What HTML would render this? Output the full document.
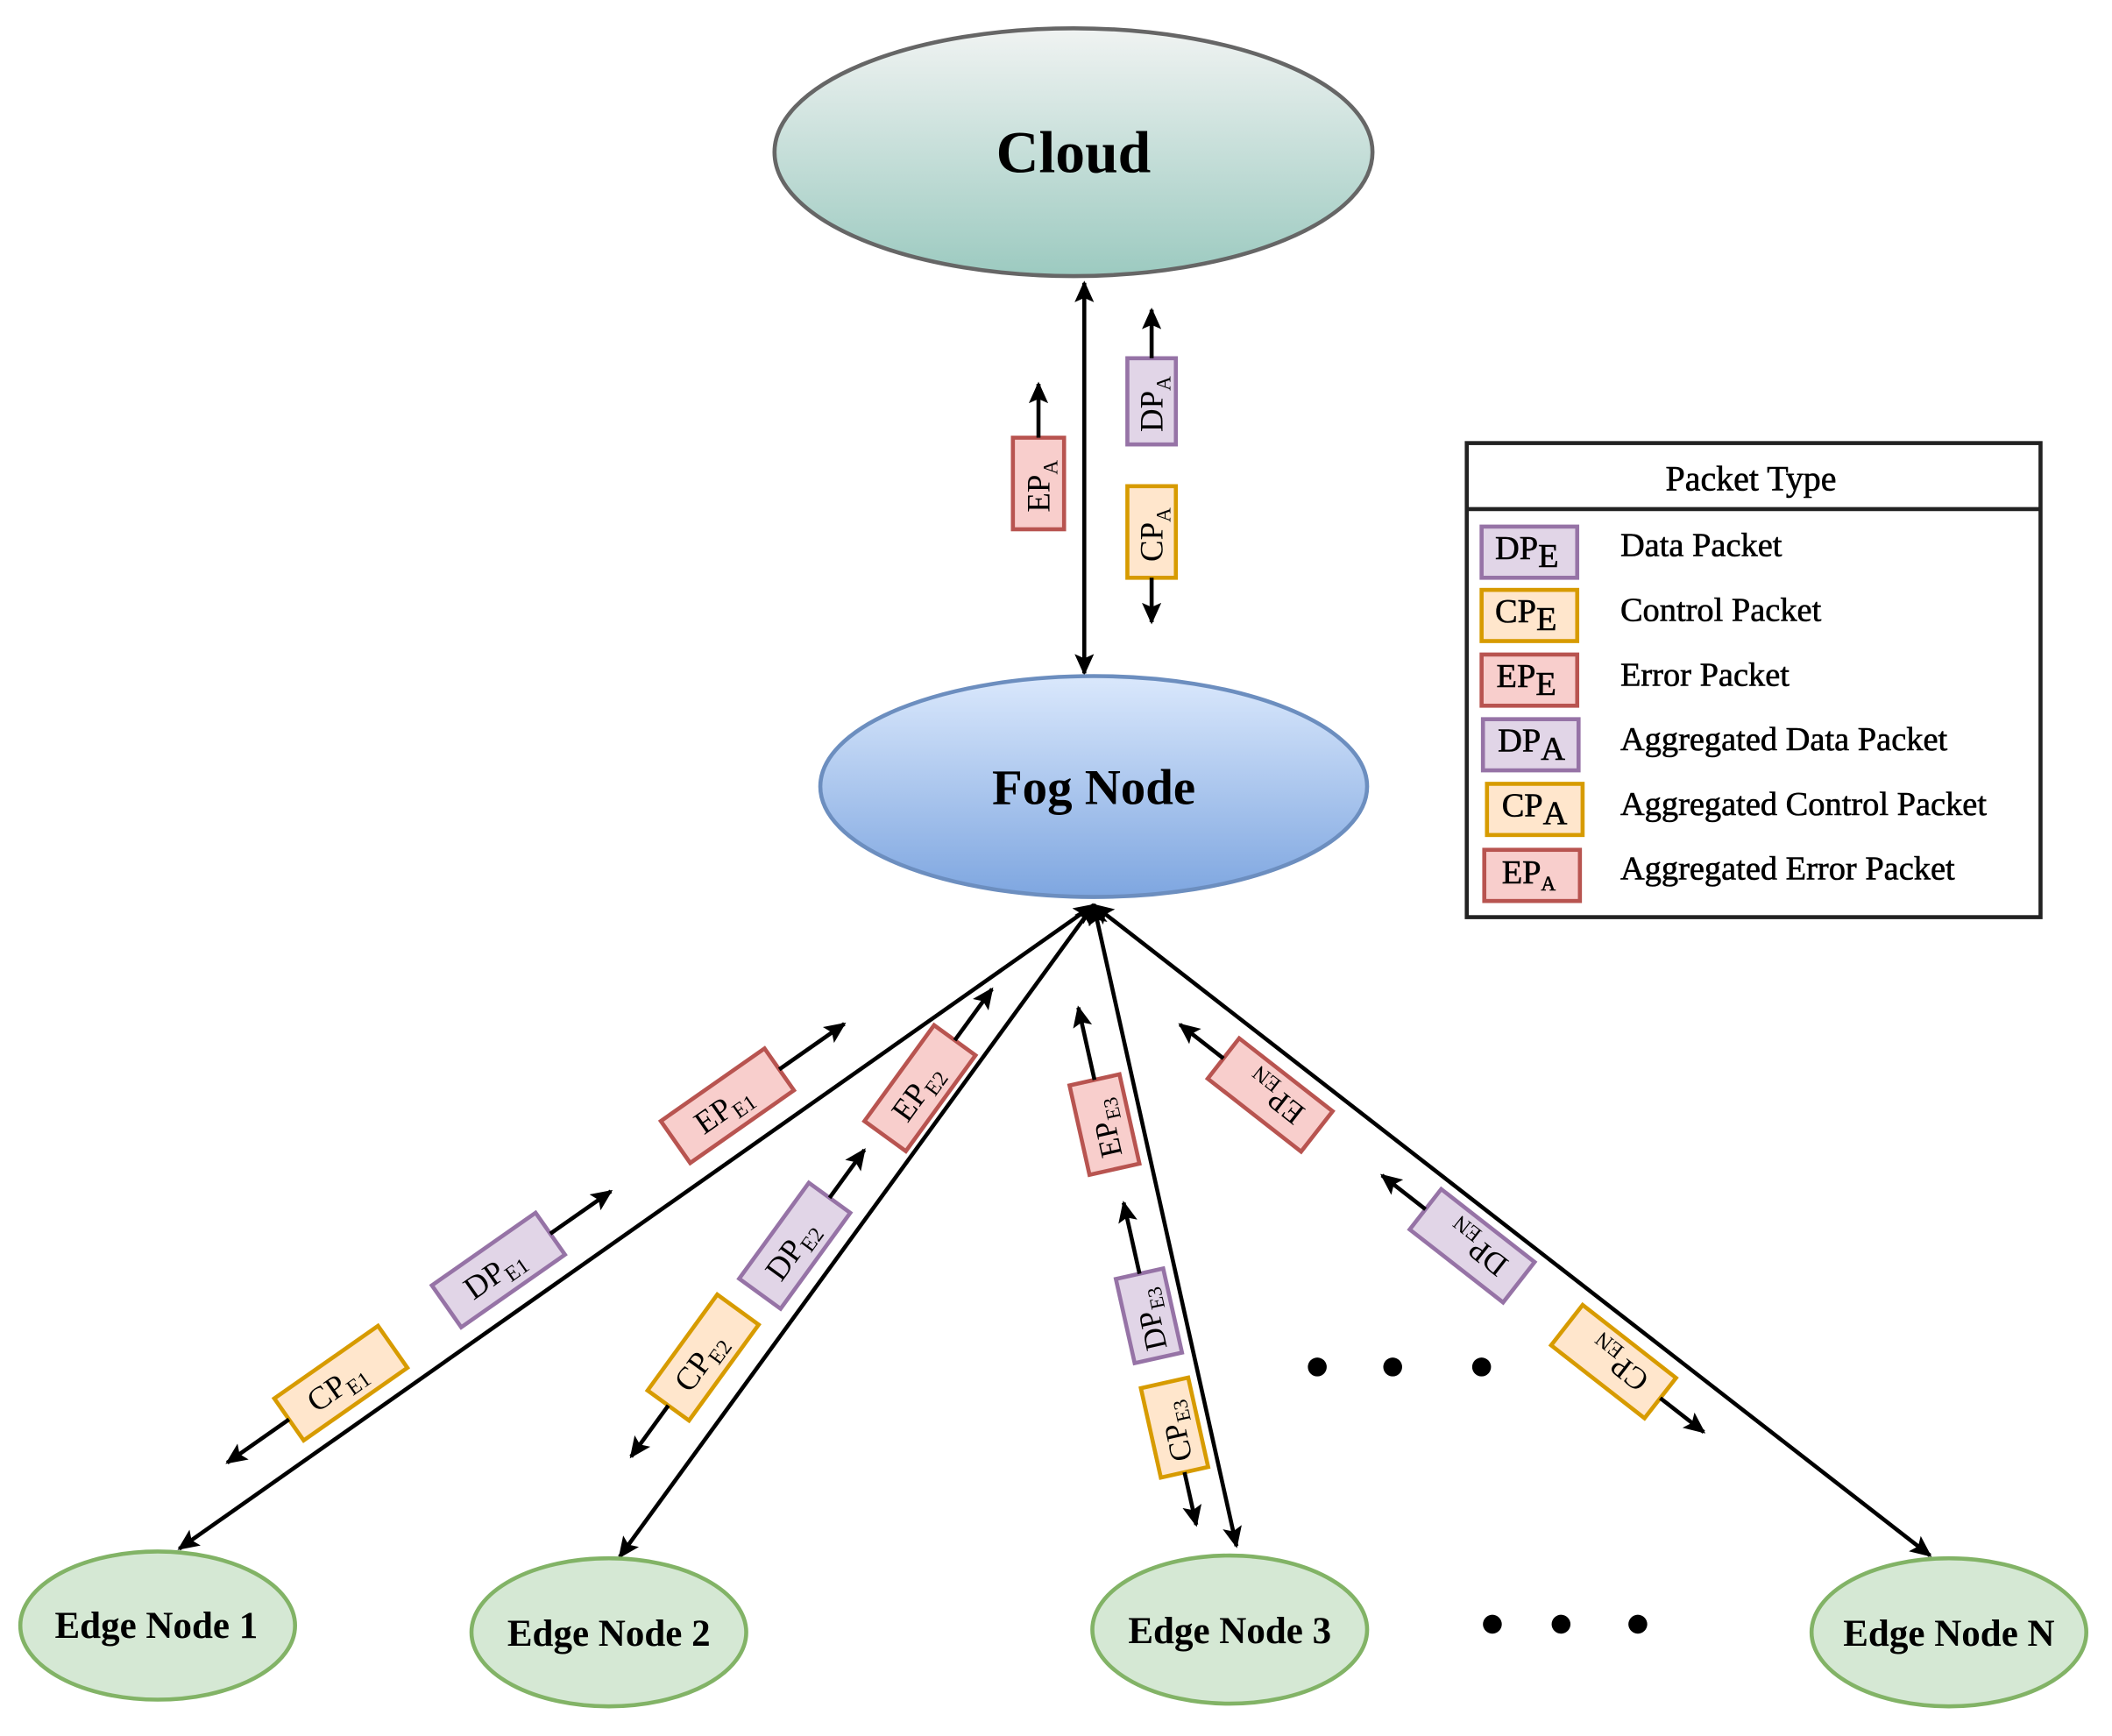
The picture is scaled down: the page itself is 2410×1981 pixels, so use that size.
<!DOCTYPE html>
<html><head><meta charset="utf-8"><style>
html,body{margin:0;padding:0;background:#fff;}
svg{display:block;}
text{font-family:"Liberation Serif",serif;}
</style></head><body>
<svg width="2410" height="1981" viewBox="0 0 1568 1289" xmlns="http://www.w3.org/2000/svg">
<defs>
<linearGradient id="gc" x1="0" y1="0" x2="0" y2="1"><stop offset="0" stop-color="#f0f3f2"/><stop offset="1" stop-color="#9ccac0"/></linearGradient>
<linearGradient id="gf" x1="0" y1="0" x2="0" y2="1"><stop offset="0" stop-color="#dae8fc"/><stop offset="1" stop-color="#7ea6e0"/></linearGradient>
<marker id="am" viewBox="0 0 10 10" refX="9" refY="5" markerWidth="16" markerHeight="16" markerUnits="userSpaceOnUse" orient="auto-start-reverse">
<path d="M0,0.5 L10,5 L0,9.5 L2,5 z" fill="#000"/></marker>
</defs>

<ellipse cx="797" cy="113" rx="222" ry="92" fill="url(#gc)" stroke="#666" stroke-width="3"/>
<text x="797" y="128" font-size="44" font-weight="bold" text-anchor="middle">Cloud</text>

<line x1="805" y1="210" x2="805" y2="500" stroke="#000" stroke-width="3" marker-start="url(#am)" marker-end="url(#am)"/>

<g transform="translate(771,359) rotate(-90)">
<rect x="-34" y="-19" width="68" height="38" fill="#f8cecc" stroke="#b85450" stroke-width="3"/>
<text x="-2" y="8" font-size="24" text-anchor="middle">EP<tspan font-size="15" dy="6">A</tspan></text>
<line x1="34" y1="0" x2="74" y2="0" stroke="#000" stroke-width="3" marker-end="url(#am)"/>
</g>
<g transform="translate(855,298) rotate(-90)">
<rect x="-32" y="-18" width="64" height="36" fill="#e1d5e7" stroke="#9673a6" stroke-width="3"/>
<text x="-2" y="8" font-size="24" text-anchor="middle">DP<tspan font-size="15" dy="6">A</tspan></text>
<line x1="32" y1="0" x2="68" y2="0" stroke="#000" stroke-width="3" marker-end="url(#am)"/>
</g>
<g transform="translate(855,395) rotate(-90)">
<rect x="-34" y="-18" width="68" height="36" fill="#ffe6cc" stroke="#d79b00" stroke-width="3"/>
<text x="-2" y="8" font-size="24" text-anchor="middle">CP<tspan font-size="15" dy="6">A</tspan></text>
<line x1="-34" y1="0" x2="-67" y2="0" stroke="#000" stroke-width="3" marker-end="url(#am)"/>
</g>

<ellipse cx="812" cy="584" rx="203" ry="82" fill="url(#gf)" stroke="#6c8ebf" stroke-width="3"/>
<text x="812" y="597" font-size="37" font-weight="bold" text-anchor="middle">Fog Node</text>

<g stroke="#000" stroke-width="3">
<line x1="812" y1="672" x2="133" y2="1150" marker-start="url(#am)" marker-end="url(#am)"/>
<line x1="812" y1="672" x2="460" y2="1156" marker-start="url(#am)" marker-end="url(#am)"/>
<line x1="812" y1="672" x2="918" y2="1148" marker-start="url(#am)" marker-end="url(#am)"/>
<line x1="812" y1="672" x2="1433" y2="1155" marker-start="url(#am)" marker-end="url(#am)"/>
</g>

<g transform="translate(540,821) rotate(-35)">
<rect x="-47" y="-19" width="94" height="38" fill="#f8cecc" stroke="#b85450" stroke-width="3"/>
<text x="-4" y="8" font-size="24" text-anchor="middle">EP<tspan font-size="16" dy="5">E1</tspan></text>
<line x1="47" y1="0" x2="106" y2="0" stroke="#000" stroke-width="3" marker-end="url(#am)"/>
</g>
<g transform="translate(370,943) rotate(-35)">
<rect x="-47" y="-19" width="94" height="38" fill="#e1d5e7" stroke="#9673a6" stroke-width="3"/>
<text x="-4" y="8" font-size="24" text-anchor="middle">DP<tspan font-size="16" dy="5">E1</tspan></text>
<line x1="47" y1="0" x2="102" y2="0" stroke="#000" stroke-width="3" marker-end="url(#am)"/>
</g>
<g transform="translate(253,1027) rotate(-35)">
<rect x="-47" y="-19" width="94" height="38" fill="#ffe6cc" stroke="#d79b00" stroke-width="3"/>
<text x="-4" y="8" font-size="24" text-anchor="middle">CP<tspan font-size="16" dy="5">E1</tspan></text>
<line x1="-47" y1="0" x2="-103" y2="0" stroke="#000" stroke-width="3" marker-end="url(#am)"/>
</g>

<g transform="translate(683,808) rotate(-54)">
<rect x="-44" y="-19" width="88" height="38" fill="#f8cecc" stroke="#b85450" stroke-width="3"/>
<text x="-4" y="8" font-size="24" text-anchor="middle">EP<tspan font-size="16" dy="5">E2</tspan></text>
<line x1="44" y1="0" x2="91" y2="0" stroke="#000" stroke-width="3" marker-end="url(#am)"/>
</g>
<g transform="translate(590,925) rotate(-54)">
<rect x="-44" y="-19" width="88" height="38" fill="#e1d5e7" stroke="#9673a6" stroke-width="3"/>
<text x="-4" y="8" font-size="24" text-anchor="middle">DP<tspan font-size="16" dy="5">E2</tspan></text>
<line x1="44" y1="0" x2="88" y2="0" stroke="#000" stroke-width="3" marker-end="url(#am)"/>
</g>
<g transform="translate(522,1008) rotate(-54)">
<rect x="-44" y="-19" width="88" height="38" fill="#ffe6cc" stroke="#d79b00" stroke-width="3"/>
<text x="-4" y="8" font-size="24" text-anchor="middle">CP<tspan font-size="16" dy="5">E2</tspan></text>
<line x1="-44" y1="0" x2="-91" y2="0" stroke="#000" stroke-width="3" marker-end="url(#am)"/>
</g>

<g transform="translate(820,835) rotate(-102.6)">
<rect x="-34" y="-19" width="68" height="38" fill="#f8cecc" stroke="#b85450" stroke-width="3"/>
<text x="-3" y="8" font-size="23" text-anchor="middle">EP<tspan font-size="15" dy="5">E3</tspan></text>
<line x1="34" y1="0" x2="89" y2="0" stroke="#000" stroke-width="3" marker-end="url(#am)"/>
</g>
<g transform="translate(853,977) rotate(-102.6)">
<rect x="-32" y="-18" width="64" height="36" fill="#e1d5e7" stroke="#9673a6" stroke-width="3"/>
<text x="-3" y="8" font-size="23" text-anchor="middle">DP<tspan font-size="15" dy="5">E3</tspan></text>
<line x1="32" y1="0" x2="86" y2="0" stroke="#000" stroke-width="3" marker-end="url(#am)"/>
</g>
<g transform="translate(872,1060) rotate(-102.6)">
<rect x="-34" y="-18" width="68" height="36" fill="#ffe6cc" stroke="#d79b00" stroke-width="3"/>
<text x="-3" y="8" font-size="23" text-anchor="middle">CP<tspan font-size="15" dy="5">E3</tspan></text>
<line x1="-34" y1="0" x2="-74" y2="0" stroke="#000" stroke-width="3" marker-end="url(#am)"/>
</g>

<g transform="translate(943,813) rotate(218)">
<rect x="-44" y="-19" width="88" height="38" fill="#f8cecc" stroke="#b85450" stroke-width="3"/>
<text x="-4" y="8" font-size="23" text-anchor="middle">EP<tspan font-size="16" dy="5">EN</tspan></text>
<line x1="44" y1="0" x2="85" y2="0" stroke="#000" stroke-width="3" marker-end="url(#am)"/>
</g>
<g transform="translate(1093,925) rotate(218)">
<rect x="-44" y="-19" width="88" height="38" fill="#e1d5e7" stroke="#9673a6" stroke-width="3"/>
<text x="-4" y="8" font-size="23" text-anchor="middle">DP<tspan font-size="16" dy="5">EN</tspan></text>
<line x1="44" y1="0" x2="85" y2="0" stroke="#000" stroke-width="3" marker-end="url(#am)"/>
</g>
<g transform="translate(1198,1011) rotate(218)">
<rect x="-44" y="-19" width="88" height="38" fill="#ffe6cc" stroke="#d79b00" stroke-width="3"/>
<text x="-4" y="8" font-size="23" text-anchor="middle">CP<tspan font-size="16" dy="5">EN</tspan></text>
<line x1="-44" y1="0" x2="-85" y2="0" stroke="#000" stroke-width="3" marker-end="url(#am)"/>
</g>

<g fill="#000">
<circle cx="978" cy="1015" r="7"/><circle cx="1034" cy="1015" r="7"/><circle cx="1100" cy="1015" r="7"/>
<circle cx="1108" cy="1206" r="7"/><circle cx="1159" cy="1206" r="7"/><circle cx="1216" cy="1206" r="7"/>
</g>

<g fill="#d5e8d4" stroke="#82b366" stroke-width="3">
<ellipse cx="117" cy="1207" rx="102" ry="55"/>
<ellipse cx="452" cy="1212" rx="102" ry="55"/>
<ellipse cx="913" cy="1210" rx="102" ry="55"/>
<ellipse cx="1447" cy="1212" rx="102" ry="55"/>
</g>
<g font-size="28" font-weight="bold" text-anchor="middle">
<text x="116" y="1216">Edge Node 1</text>
<text x="452" y="1222">Edge Node 2</text>
<text x="913" y="1220">Edge Node 3</text>
<text x="1447" y="1222">Edge Node N</text>
</g>

<rect x="1089" y="329" width="426" height="352" fill="#fff" stroke="#222" stroke-width="3"/>
<line x1="1089" y1="378" x2="1515" y2="378" stroke="#222" stroke-width="3"/>
<text x="1300" y="364" font-size="26" text-anchor="middle" stroke="#000" stroke-width="0.4">Packet Type</text>
<g stroke-width="3">
<rect x="1100" y="391" width="71" height="38" fill="#e1d5e7" stroke="#9673a6"/>
<rect x="1100" y="438" width="71" height="38" fill="#ffe6cc" stroke="#d79b00"/>
<rect x="1100" y="486" width="71" height="38" fill="#f8cecc" stroke="#b85450"/>
<rect x="1101" y="534" width="71" height="38" fill="#e1d5e7" stroke="#9673a6"/>
<rect x="1104" y="582" width="71" height="38" fill="#ffe6cc" stroke="#d79b00"/>
<rect x="1102" y="631" width="71" height="38" fill="#f8cecc" stroke="#b85450"/>
</g>
<g font-size="25" stroke="#000" stroke-width="0.4">
<text x="1110" y="415">DP<tspan dy="6">E</tspan></text>
<text x="1110" y="462">CP<tspan dy="6">E</tspan></text>
<text x="1111" y="510">EP<tspan dy="6">E</tspan></text>
<text x="1112" y="558">DP<tspan dy="6">A</tspan></text>
<text x="1115" y="606">CP<tspan dy="6">A</tspan></text>
<text x="1115" y="656">EP<tspan font-size="15" dy="5">A</tspan></text>
</g>
<g font-size="25" stroke="#000" stroke-width="0.4">
<text x="1203" y="413">Data Packet</text>
<text x="1203" y="461">Control Packet</text>
<text x="1203" y="509">Error Packet</text>
<text x="1203" y="557">Aggregated Data Packet</text>
<text x="1203" y="605">Aggregated Control Packet</text>
<text x="1203" y="653">Aggregated Error Packet</text>
</g>
</svg>
</body></html>
